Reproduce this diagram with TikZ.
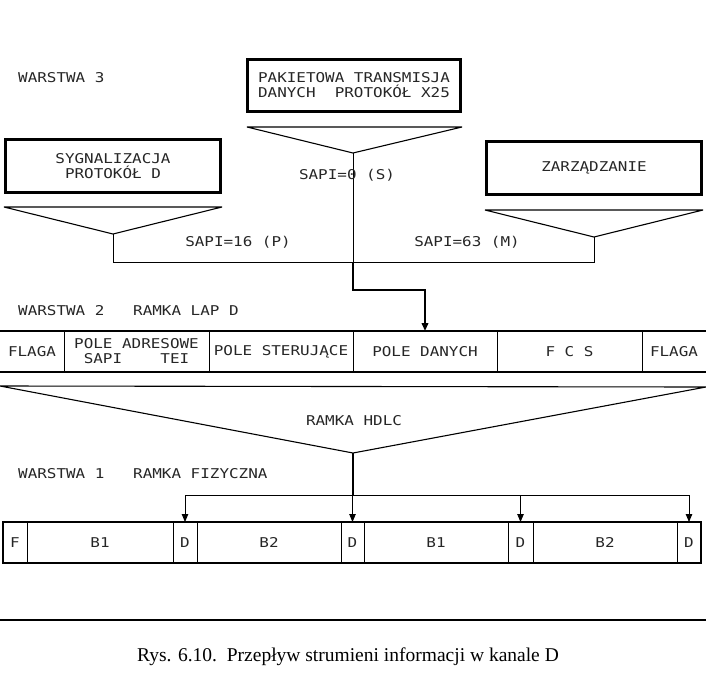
\documentclass[tikz,border=0pt]{standalone}
\usepackage{fontspec}
\newfontfamily\plotfont[FakeStretch=1.18]{DejaVu Sans Mono}
\newfontfamily\capfont{Liberation Serif}
\usetikzlibrary{arrows.meta}
\begin{document}
\begin{tikzpicture}[x=1pt,y=-1pt,
  lbl/.style={font=\plotfont\fontsize{13.5}{15}\selectfont, inner sep=0pt, text=black!85},
  box/.style={draw, line width=2.6pt, inner sep=0pt, outer sep=0pt, align=center, lbl},
  funnel/.style={line width=1.1pt, line join=bevel},
  thinln/.style={line width=0.9pt},
  thickln/.style={line width=2.8pt},
  arr/.style={-{Triangle[length=8pt,width=6.5pt]}},
  lapcell/.style={lbl, align=center, minimum height=41pt, outer sep=0pt, anchor=west},
  phcell/.style={lbl, draw, line width=0.9pt, minimum height=41pt, outer sep=0pt, anchor=west}
]
\useasboundingbox (0,0) rectangle (706,678);

% ---- layer 3 ----
\node[lbl, anchor=west] (w3) at (18,78) {WARSTWA 3};
\node[box, minimum width=213pt, minimum height=52pt] (pak) at (354,85.5)
  {PAKIETOWA TRANSMISJA\\DANYCH\ \ PROTOKÓŁ X25};
\node[box, minimum width=215pt, minimum height=53pt] (syg) at (113,166)
  {SYGNALIZACJA\\PROTOKÓŁ D};
\node[box, minimum width=215pt, minimum height=53pt] (zar) at (594,168)
  {ZARZĄDZANIE};

% funnels
\coordinate (pakA) at (353,153);
\coordinate (sygA) at (113,234);
\coordinate (zarA) at (594,237);
\draw[funnel] (247,127) -- (462,127) -- (pakA) -- cycle;
\draw[funnel] (4,207) -- (222,207) -- (sygA) -- cycle;
\draw[funnel] (485,210) -- (703,210) -- (zarA) -- cycle;

\coordinate (join) at (353,262);
\coordinate (bend) at (353,290);
\draw[thinln] (sygA) -- (113,262) -- (594,262) -- (zarA);
\draw[thinln] (pakA) -- (join);

\node[lbl] (s16) at (238,242) {SAPI=16 (P)};
\node[lbl] (s0) at (347,175) {SAPI=0 (S)};
\node[lbl] (s63) at (467,242) {SAPI=63 (M)};

% ---- layer 2 ----
\node[lbl, anchor=west] (w2) at (18,311) {WARSTWA 2};
\node[lbl, anchor=west] (lap) at (133,311) {RAMKA LAP D};

\node[lapcell, minimum width=64pt] (fl1) at (0,351.5) {FLAGA};
\node[lapcell, minimum width=145pt] (adr) at (fl1.east) {POLE ADRESOWE\\SAPI\ \ \ \ TEI};
\node[lapcell, minimum width=144pt] (ster) at (adr.east) {POLE STERUJĄCE};
\node[lapcell, minimum width=144pt] (dan) at (ster.east) {POLE DANYCH};
\node[lapcell, minimum width=145pt] (fcs) at (dan.east) {F C S};
\node[lapcell, minimum width=64pt] (fl2) at (fcs.east) {FLAGA};
\foreach \c in {fl1,adr,ster,dan,fcs}
  \draw[thinln] (\c.north east) -- (\c.south east);
\draw[thickln] (fl1.north west) -- (fl2.north east);
\draw[thickln] (fl1.south west) -- (fl2.south east);

\draw[thickln, arr] (join) -- (bend) -| (dan.north);

% HDLC funnel
\coordinate (hA) at (353,453);
\draw[funnel] (0,386) -- (706,387) -- (hA) -- cycle;
\node[lbl] (hdlc) at (354,421) {RAMKA HDLC};

% ---- layer 1 ----
\node[lbl, anchor=west] (w1) at (18,474) {WARSTWA 1};
\node[lbl, anchor=west] (fiz) at (133,474) {RAMKA FIZYCZNA};

\node[phcell, minimum width=24pt] (pf) at (3,542.5) {F};
\node[phcell, minimum width=146pt] (pb1) at (pf.east) {B1};
\node[phcell, minimum width=24pt] (pd1) at (pb1.east) {D};
\node[phcell, minimum width=144pt] (pb2) at (pd1.east) {B2};
\node[phcell, minimum width=23pt] (pd2) at (pb2.east) {D};
\node[phcell, minimum width=144pt] (pb3) at (pd2.east) {B1};
\node[phcell, minimum width=25pt] (pd3) at (pb3.east) {D};
\node[phcell, minimum width=144pt] (pb4) at (pd3.east) {B2};
\node[phcell, minimum width=24pt] (pd4) at (pb4.east) {D};
\draw[line width=2.6pt] (pf.north west) rectangle (pd4.south east);

\coordinate (hB) at (353,495);
\draw[thickln] (hA) -- (hB);
\draw[thinln] (pd1.north |- hB) -- (pd4.north |- hB);
\foreach \d in {pd1,pd2,pd3,pd4}
  \draw[thinln, arr] (\d.north |- hB) -- (\d.north);

% bottom rule and caption
\coordinate (r1) at (0,620);
\coordinate (r2) at (706,620);
\draw[line width=2.6pt] (r1) -- (r2);
\node[font=\capfont\fontsize{19.5}{22}\selectfont, inner sep=0pt] (cap) at (348,657)
  {Rys. 6.10.\ \ Przepływ strumieni informacji w kanale D};
\end{tikzpicture}
\end{document}
